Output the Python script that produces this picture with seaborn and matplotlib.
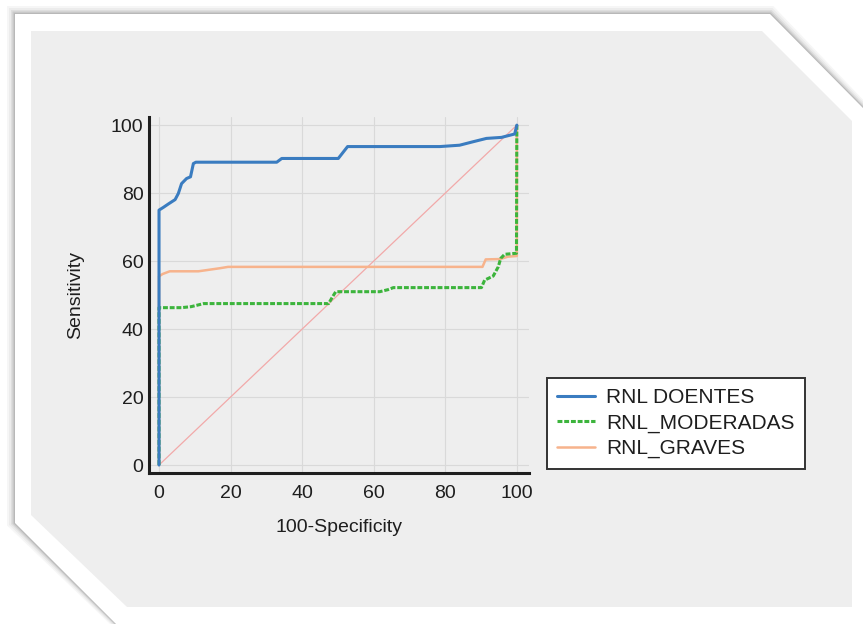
import matplotlib
matplotlib.use("Agg")
import seaborn as sns
import matplotlib.pyplot as plt
from matplotlib.patches import Polygon
from matplotlib.ticker import MultipleLocator

# 数据：ROC 曲线 (100-Specificity, Sensitivity)
doentes_x = [0, 0, 1.2, 2.6, 4.5, 5.4, 6.3, 7.7, 8.8, 9.6, 10.3, 32.9, 34.3, 50.1, 52.7,
             78.5, 84.0, 87.7, 91.5, 95.7, 99.4, 100]
doentes_y = [0, 75.0, 75.8, 76.8, 78.1, 79.9, 82.8, 84.3, 84.8, 88.7, 89.1, 89.1, 90.2, 90.2, 93.7,
             93.7, 94.1, 95.1, 96.1, 96.4, 97.4, 100]

moderadas_x = [0, 0, 6.3, 9.0, 12.5, 47.4, 48.5, 49.4, 61.7, 64.0, 65.5, 90.1, 91.0, 93.4,
               94.8, 95.5, 96.6, 99.9, 100]
moderadas_y = [0, 46.3, 46.3, 46.6, 47.5, 47.5, 49.5, 51.0, 51.0, 51.6, 52.2, 52.2, 54.4, 55.6,
               58.3, 60.8, 62.0, 62.3, 100]

graves_x = [0, 0, 1.0, 3.0, 11.0, 13.0, 17.0, 19.3, 90.4, 91.3, 95.3, 97.5, 100, 100]
graves_y = [0, 55.5, 56.2, 57.0, 57.0, 57.3, 57.9, 58.3, 58.3, 60.5, 60.6, 61.3, 61.5, 100]

diag_x = [0, 100]
diag_y = [0, 100]

# 风格
sns.set_style("white")
plt.rcParams['font.family'] = ['Liberation Sans', 'DejaVu Sans']

W, H = 863, 624
fig = plt.figure(figsize=(W / 100, H / 100), dpi=100, facecolor='white')


def px(pts):
    # 像素坐标 -> figure 坐标
    return [(x / W, 1 - y / H) for x, y in pts]


# 背景：切角的灰色卡片，带白边和柔和阴影
outer = [(15, 14), (770, 14), (863, 108), (863, 624), (116, 624), (15, 523)]
grow = [(-1, -1), (0.4, -1), (1, 0), (1, 1), (0.3, 1), (-1, 0.3)]  # 各顶点向外方向
layers = [(8, '#f6f6f6'), (6, '#ececec'), (4, '#dedede'), (2.5, '#cccccc'), (1.2, '#b8b8b8')]
for i, (d, col) in enumerate(layers):
    shadow = [(x + gx * d, y + gy * d) for (x, y), (gx, gy) in zip(outer, grow)]
    fig.add_artist(Polygon(px(shadow), closed=True, transform=fig.transFigure,
                           facecolor=col, edgecolor='none', zorder=-20 + i))
inner = [(31, 31), (762, 31), (852, 121), (852, 607), (127, 607), (31, 515)]
fig.add_artist(Polygon(px(outer), closed=True, transform=fig.transFigure,
                       facecolor='white', edgecolor='none', zorder=-11))
fig.add_artist(Polygon(px(inner), closed=True, transform=fig.transFigure,
                       facecolor='#eeeeee', edgecolor='none', zorder=-10))

ax = fig.add_axes([149 / W, 1 - 473 / H, 380 / W, 356 / H])
ax.set_facecolor('none')

# 对角参考线
sns.lineplot(x=diag_x, y=diag_y, color='#f2a9a9', linewidth=0.9, ax=ax, zorder=2)

# 三条 ROC 曲线
sns.lineplot(x=doentes_x, y=doentes_y, estimator=None, sort=False, color='#3a7cc0',
             linewidth=2.2, label='RNL DOENTES', ax=ax, zorder=5)
sns.lineplot(x=graves_x, y=graves_y, estimator=None, sort=False, color='#f7b38c',
             linewidth=1.8, label='RNL_GRAVES', ax=ax, zorder=3)
sns.lineplot(x=moderadas_x, y=moderadas_y, estimator=None, sort=False, color='#3cb43c',
             linewidth=2.2, linestyle=(0, (1.6, 0.6)), label='RNL_MODERADAS', ax=ax, zorder=4)

ax.set_xlim(-2.8, 103.4)
ax.set_ylim(-2.35, 102.4)

# 坐标轴与刻度
for side in ['top', 'right']:
    ax.spines[side].set_visible(False)
for side in ['left', 'bottom']:
    ax.spines[side].set_linewidth(2.2)
    ax.spines[side].set_color('#1e1e1e')

ax.xaxis.set_major_locator(MultipleLocator(20))
ax.yaxis.set_major_locator(MultipleLocator(20))
ax.xaxis.set_minor_locator(MultipleLocator(5))
ax.yaxis.set_minor_locator(MultipleLocator(5))
ax.tick_params(which='major', direction='in', length=5, width=1.4, color='#1e1e1e',
               labelsize=14, labelcolor='#1e1e1e')
ax.tick_params(which='minor', direction='in', length=3, width=1.2, color='#1e1e1e')
ax.tick_params(axis='x', which='major', pad=9)
ax.tick_params(axis='y', which='major', pad=4)

ax.grid(True, which='major', color='#d9d9d9', linewidth=0.8)
ax.set_axisbelow(True)

ax.set_xlabel("100-Specificity", fontsize=14, color='#1e1e1e', labelpad=12)
ax.set_ylabel("Sensitivity", fontsize=14, color='#1e1e1e', labelpad=19)

# 图例（按原图顺序）
handles, labels = ax.get_legend_handles_labels()
order = [labels.index(l) for l in ['RNL DOENTES', 'RNL_MODERADAS', 'RNL_GRAVES']]
leg = ax.legend([handles[i] for i in order], [labels[i] for i in order],
                loc='upper left', bbox_to_anchor=(1.047, 0.267), fontsize=15,
                frameon=True, fancybox=False, framealpha=1, facecolor='white',
                edgecolor='#333333', handlelength=1.8, handletextpad=0.55,
                labelspacing=0.3, borderpad=0.5, borderaxespad=0)
leg.get_frame().set_linewidth(1.4)
for t in leg.get_texts():
    t.set_color('#1e1e1e')

plt.savefig("out.png", dpi=100, facecolor='white')
